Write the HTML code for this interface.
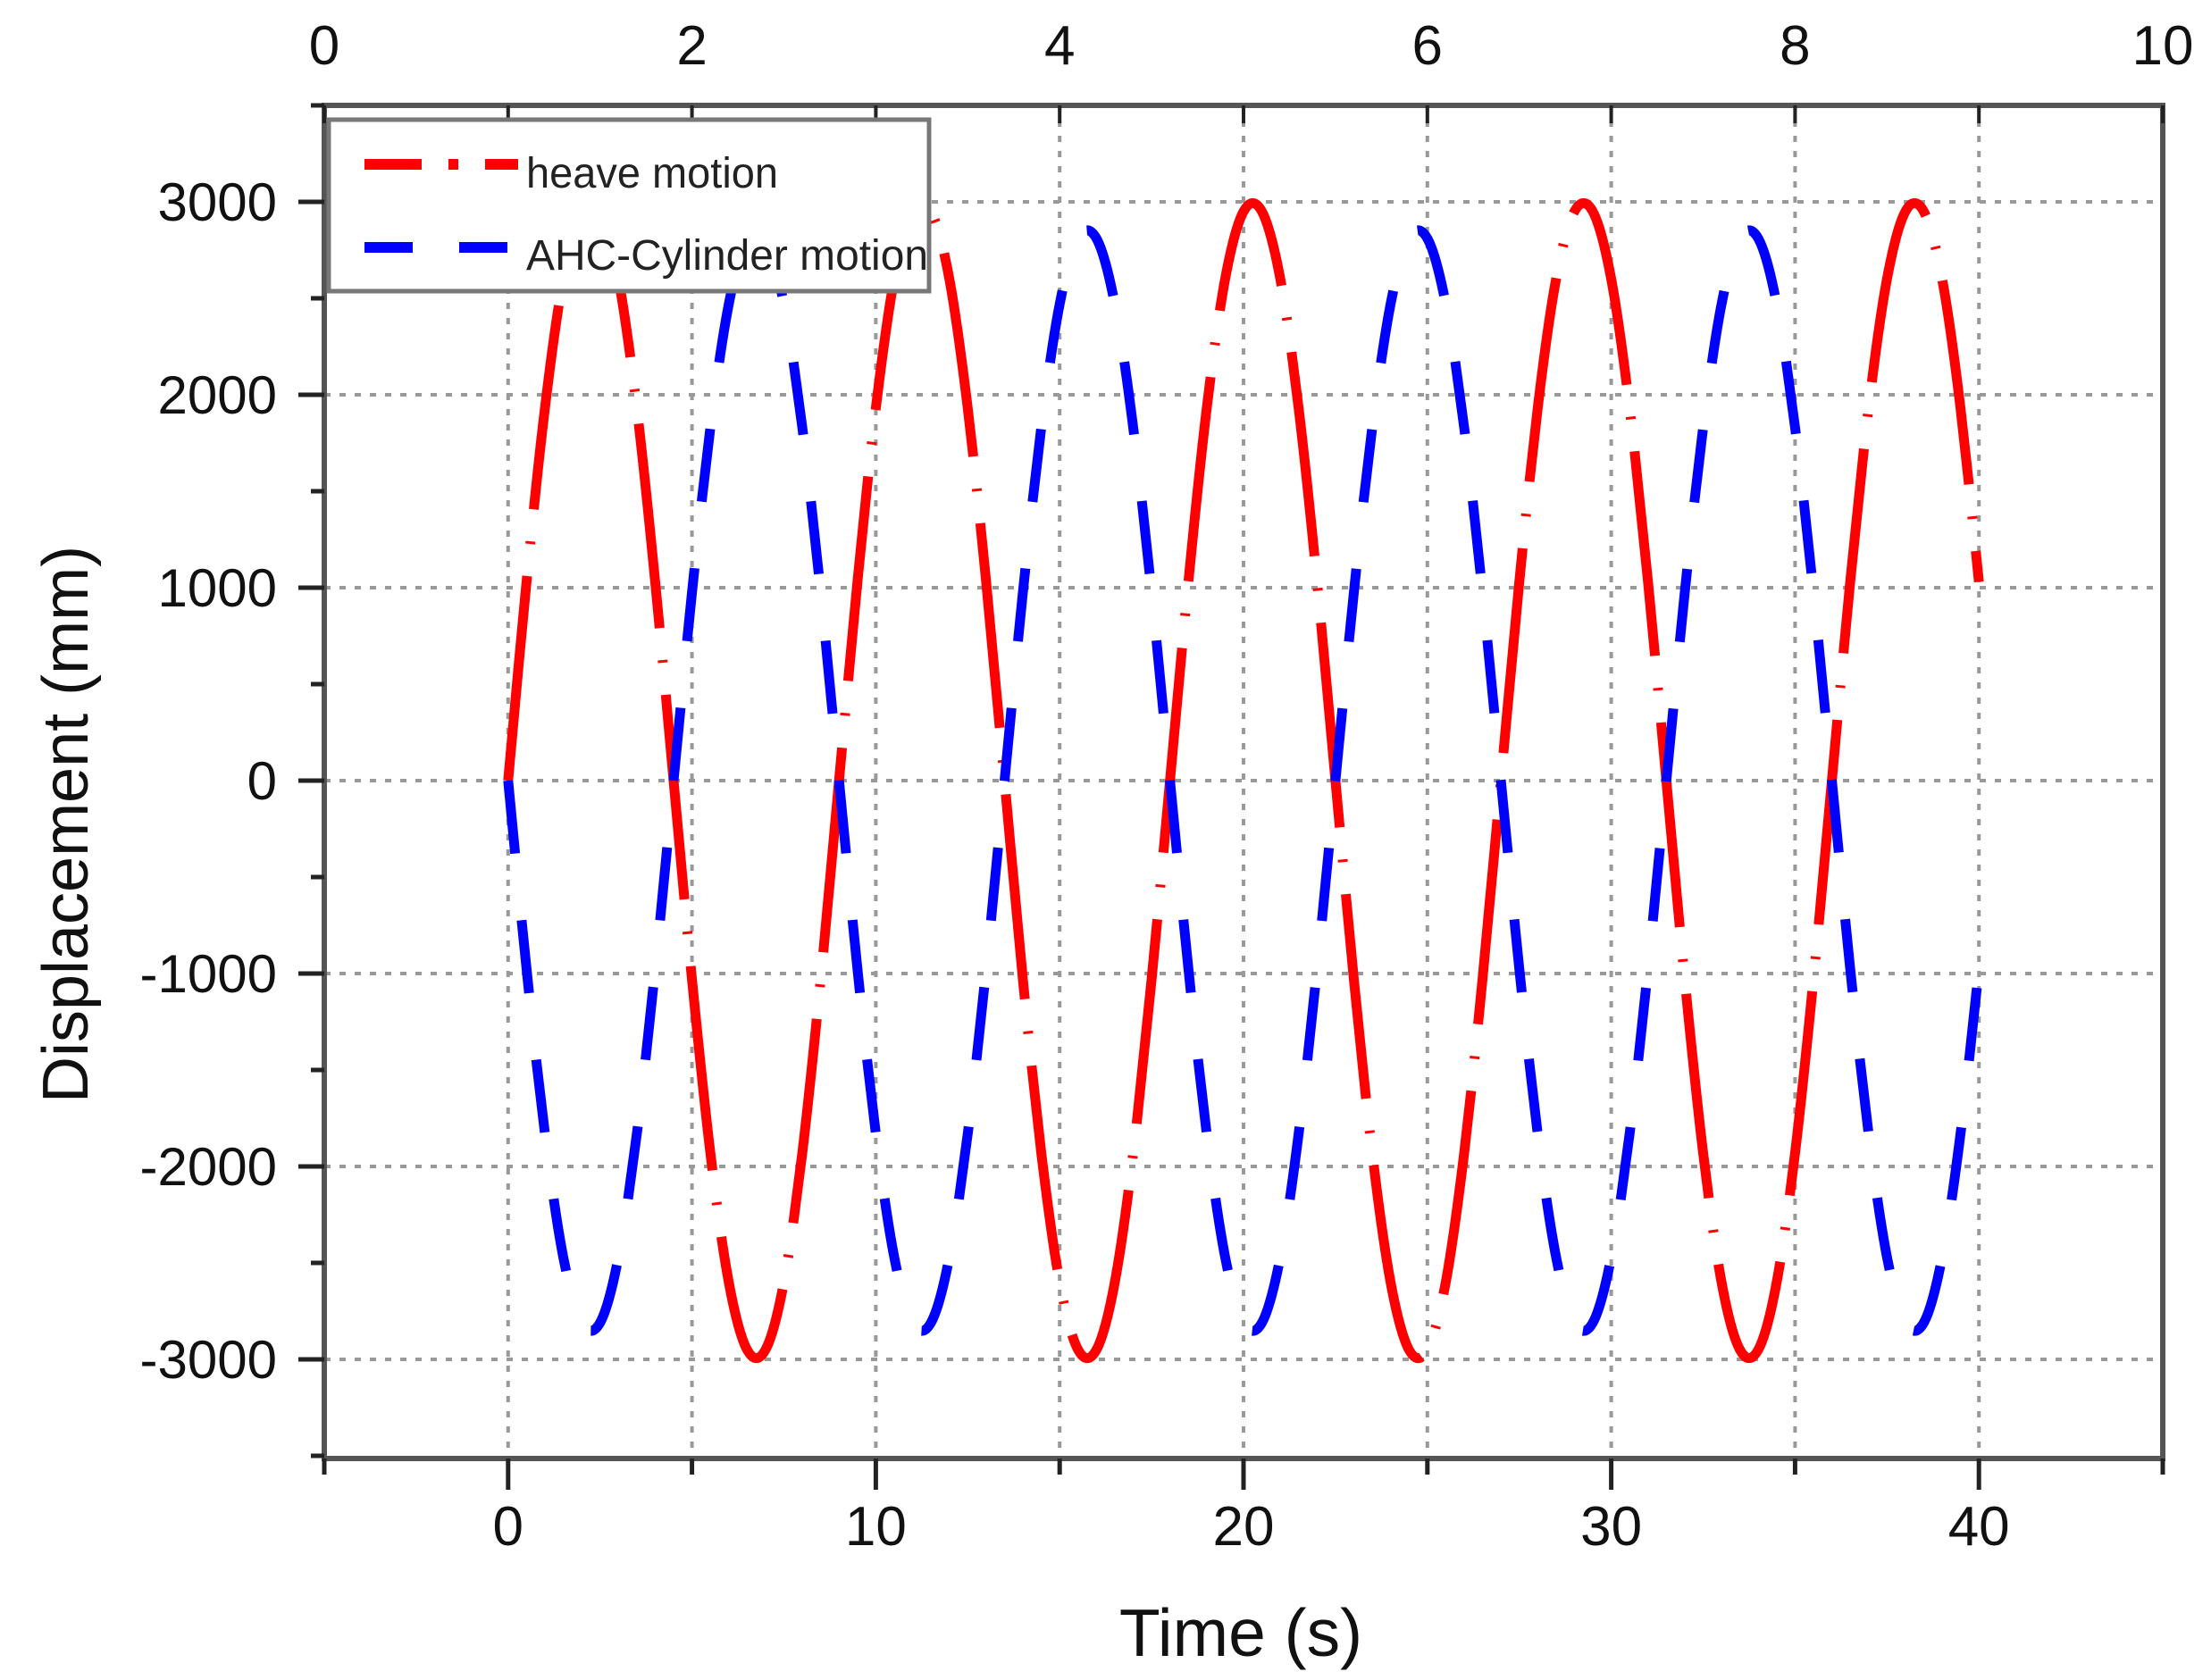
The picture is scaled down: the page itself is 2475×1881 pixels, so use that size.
<!DOCTYPE html>
<html><head><meta charset="utf-8"><style>
html,body{margin:0;padding:0;background:#fff;}
svg{display:block;font-family:"Liberation Sans",Arial,sans-serif;}
</style></head><body>
<svg id="chart" width="2475" height="1881" viewBox="0 0 2475 1881" xmlns="http://www.w3.org/2000/svg">
<rect x="0" y="0" width="2475" height="1881" fill="#fff"/>
<g id="grid"></g>
<g id="series"></g>
<g id="axes"></g>
<g id="legend">
  <rect x="368" y="134" width="672" height="192" fill="#fff" stroke="#777" stroke-width="5"/>
  <line x1="408" y1="184" x2="580" y2="184" stroke="#ff0000" stroke-width="12" stroke-dasharray="64 30 11 30"/>
  <text x="589" y="210" font-size="48" fill="#222" textLength="282" lengthAdjust="spacingAndGlyphs">heave motion</text>
  <line x1="408" y1="277" x2="570" y2="277" stroke="#0000ff" stroke-width="12" stroke-dasharray="54 52"/>
  <text x="589" y="302" font-size="48" fill="#222" textLength="450" lengthAdjust="spacingAndGlyphs">AHC-Cylinder motion</text>
</g>
<text x="1389" y="1854" font-size="75" text-anchor="middle" fill="#111">Time (s)</text>
<text transform="translate(98,923) rotate(-90)" font-size="72" text-anchor="middle" fill="#111">Displacement (mm)</text>
</svg>
<script>
const timeValues = [0,0.5,1,1.5,2,2.5,3,3.5,4,4.5,5,5.5,6,6.5,7,7.5,8,8.5,9,9.5,10,10.5,11,11.5,12,12.5,13,13.5,14,14.5,15,15.5,16,16.5,17,17.5,18,18.5,19,19.5,20,20.5,21,21.5,22,22.5,23,23.5,24,24.5,25,25.5,26,26.5,27,27.5,28,28.5,29,29.5,30,30.5,31,31.5,32,32.5,33,33.5,34,34.5,35,35.5,36,36.5,37,37.5,38,38.5,39,39.5,40];
const heaveValues = [0,1030,1930,2600,2950,2950,2600,1930,1030,0,-1030,-1930,-2600,-2950,-2950,-2600,-1930,-1030,
 0,1030,1930,2600,2950,2950,2600,1930,1030,0,-1030,-1930,-2600,-2950,-2950,-2600,-1930,-1030,
 0,1030,1930,2600,2950,2950,2600,1930,1030,0,-1030,-1930,-2600,-2950,-2950,-2600,-1930,-1030,
 0,1030,1930,2600,2950,2950,2600,1930,1030,0,-1030,-1930,-2600,-2950,-2950,-2600,-1930,-1030,
 0,1030,1930,2600,2950,2950,2600,1930,1030];
const cylinderValues = [0,-975,-1830,-2470,-2810,-2810,-2470,-1830,-975,0,975,1830,2470,2810,2810,2470,1830,975,
 0,-975,-1830,-2470,-2810,-2810,-2470,-1830,-975,0,975,1830,2470,2810,2810,2470,1830,975,
 0,-975,-1830,-2470,-2810,-2810,-2470,-1830,-975,0,975,1830,2470,2810,2810,2470,1830,975,
 0,-975,-1830,-2470,-2810,-2810,-2470,-1830,-975,0,975,1830,2470,2810,2810,2470,1830,975,
 0,-975,-1830,-2470,-2810,-2810,-2470,-1830,-975];
const xTickValues = [0,10,20,30,40];
const xTickLabels = ["0","10","20","30","40"];
const xMinorValues = [-5,5,15,25,35,45];
const xGridValues = [0,5,10,15,20,25,30,35,40];
const topTickValues = [0,1,2,3,4,5,6,7,8,9,10];
const topTickLabels = ["0","2","4","6","8","10"];
const topLabelValues = [0,2,4,6,8,10];
const yTickValues = [-3000,-2000,-1000,0,1000,2000,3000];
const yTickLabels = ["-3000","-2000","-1000","0","1000","2000","3000"];
const yMinorValues = [-3500,-2500,-1500,-500,500,1500,2500,3500];

const L=363,R=2421,T=118,B=1633;
const X0=-5,X1=45;
function xs(v){return L+(v-X0)/(X1-X0)*(R-L);}
function xTop(v){return L+v/10*(R-L);}
function ys(v){return 874-v*0.216;}
const NS="http://www.w3.org/2000/svg";
function mk(tag,attrs,parent){const e=document.createElementNS(NS,tag);for(const k in attrs)e.setAttribute(k,attrs[k]);parent.appendChild(e);return e;}
const grid=document.getElementById('grid'),axes=document.getElementById('axes'),series=document.getElementById('series');

xGridValues.forEach(v=>{
  const g=mk('line',{x1:xs(v),x2:xs(v),y1:T,y2:B,stroke:'#999','stroke-width':4,'stroke-dasharray':'7 10'},grid);
  
  
});
yTickValues.forEach(v=>{
  const g=mk('line',{x1:L,x2:R,y1:ys(v),y2:ys(v),stroke:'#999','stroke-width':4,'stroke-dasharray':'7 10'},grid);
  
  
});

function smoothPath(xv,yv){
  const p=xv.map((t,i)=>[xs(t),ys(yv[i])]);
  let d='M'+p[0][0]+','+p[0][1];
  for(let i=0;i<p.length-1;i++){
    const p0=p[Math.max(0,i-1)],p1=p[i],p2=p[i+1],p3=p[Math.min(p.length-1,i+2)];
    const c1=[p1[0]+(p2[0]-p0[0])/6,p1[1]+(p2[1]-p0[1])/6];
    const c2=[p2[0]-(p3[0]-p1[0])/6,p2[1]-(p3[1]-p1[1])/6];
    d+=' C'+c1[0].toFixed(1)+','+c1[1].toFixed(1)+' '+c2[0].toFixed(1)+','+c2[1].toFixed(1)+' '+p2[0].toFixed(1)+','+p2[1].toFixed(1);
  }
  return d;
}
const heave=mk('path',{d:smoothPath(timeValues,heaveValues),fill:'none',stroke:'#ff0000','stroke-width':11,'stroke-dasharray':'230 36 3 36'},series);


const cyl=mk('path',{d:smoothPath(timeValues,cylinderValues),fill:'none',stroke:'#0000ff','stroke-width':11,'stroke-dasharray':'82 75'},series);



const frame=mk('rect',{x:L,y:T,width:R-L,height:B-T,fill:'none',stroke:'#555','stroke-width':6},axes);



xTickValues.forEach((v,i)=>{
  const t=mk('line',{x1:xs(v),x2:xs(v),y1:B,y2:B+35,stroke:'#222','stroke-width':5},axes);
  
  
  const lb=mk('text',{x:xs(v),y:1730,'font-size':62,'text-anchor':'middle',fill:'#111'},axes);
  lb.textContent=xTickLabels[i];
  
  
});
xMinorValues.forEach(v=>{
  const t=mk('line',{x1:xs(v),x2:xs(v),y1:B,y2:B+18,stroke:'#222','stroke-width':5},axes);
  
  
});
topTickValues.forEach(v=>{
  const t=mk('line',{x1:xTop(v),x2:xTop(v),y1:T,y2:T+20,stroke:'#222','stroke-width':4},axes);
  
  
});
topLabelValues.forEach((v,i)=>{
  const lb=mk('text',{x:xTop(v),y:72,'font-size':62,'text-anchor':'middle',fill:'#111'},axes);
  lb.textContent=topTickLabels[i];
  
  
});
yTickValues.forEach((v,i)=>{
  const t=mk('line',{x1:L-29,x2:L,y1:ys(v),y2:ys(v),stroke:'#222','stroke-width':5},axes);
  
  
  const lb=mk('text',{x:310,y:ys(v)+21,'font-size':60,'text-anchor':'end',fill:'#111'},axes);
  lb.textContent=yTickLabels[i];
  
  
});
yMinorValues.forEach(v=>{
  const t=mk('line',{x1:L-15,x2:L,y1:ys(v),y2:ys(v),stroke:'#222','stroke-width':5},axes);
  
  
});
</script>
</body></html>
